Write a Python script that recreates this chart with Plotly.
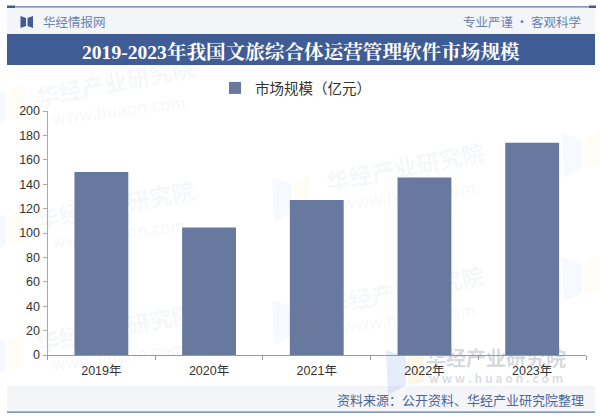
import plotly.graph_objects as go

years = ["2019年", "2020年", "2021年", "2022年", "2023年"]
market_size = [150, 104.5, 127, 145.5, 174]
y_ticks = [0, 20, 40, 60, 80, 100, 120, 140, 160, 180, 200]

W, H = 600, 419
CJK = "Noto Sans CJK SC"
LATIN = "Liberation Sans, Noto Sans CJK SC"
SERIF = "Liberation Serif, Noto Serif CJK SC, serif"
BAND = "#3f5c94"
BAR = "#67799f"
PALE = "#f3f5f9"
WATERMARK = "rgba(120,130,150,0.08)"


def px(x):
    return x / W


def py(y):
    return 1 - y / H


def rect(x0, y0, x1, y1, color):
    return dict(type="rect", xref="paper", yref="paper", x0=px(x0), x1=px(x1),
                y0=py(y0), y1=py(y1), fillcolor=color, line_width=0, layer="below")


def poly(points, color):
    path = "M " + " L ".join(f"{px(x)} {py(y)}" for x, y in points) + " Z"
    return dict(type="path", xref="paper", yref="paper", path=path, fillcolor=color,
                line_width=0, layer="below")


def label(x, y, text, size, color, anchor="left", family=CJK):
    return dict(xref="paper", yref="paper", x=px(x), y=py(y), text=text, showarrow=False,
                xanchor=anchor, yanchor="middle",
                font=dict(size=size, color=color, family=family))


def watermark(x, y, text, size, angle, color=WATERMARK):
    # invisible box, only its label shows; stays under the bars
    return dict(type="rect", xref="paper", yref="paper", x0=px(x - 90), x1=px(x + 90),
                y0=py(y + 20), y1=py(y - 20), line_width=0, fillcolor="rgba(0,0,0,0)",
                layer="below",
                label=dict(text=text, textangle=angle, textposition="middle center",
                           font=dict(size=size, color=color, family=CJK)))


def logo(x, y, alpha=0.05):
    blue = f"rgba(70,130,220,{alpha})"
    yellow = f"rgba(250,200,80,{alpha})"
    return [
        poly([(x, y), (x + 20, y + 7), (x + 20, y + 35), (x + 2, y + 45)], blue),
        poly([(x + 38, y - 3), (x + 22, y + 7), (x + 22, y + 35), (x + 38, y + 32)], yellow),
    ]


shapes = [
    rect(7, 7, 595, 34, PALE),
    rect(7, 34, 595, 65, BAND),
    rect(7, 386, 595, 412, PALE),
    rect(7, 6.2, 595, 7.4, "#5d78a8"),
    rect(7, 411.6, 595, 412.8, "#5d78a8"),
    rect(7, 5.5, 15, 8, BAND),
    rect(589, 5.5, 596, 8, BAND),
    # logo mark
    poly([(20.5, 16), (26, 18), (26, 26), (20.5, 28)], BAND),
    poly([(33, 16), (27.5, 18), (27.5, 26), (33, 28)], BAND),
]

for lx, ly in [(-14, 85), (-14, 210), (-14, 335), (272, 177), (272, 300), (562, 133), (562, 257)]:
    shapes += logo(lx, ly)
shapes += logo(386, 350, alpha=0.14)

for wx, wy in [(116, 85), (116, 208), (116, 331), (406, 170), (406, 293)]:
    shapes.append(watermark(wx, wy, "<b>华经产业研究院</b>", 23, -11))
    shapes.append(watermark(wx + 3, wy + 27, "www.huaon.com", 17, -7))
shapes.append(watermark(496, 360, "<b>华经产业研究院</b>", 20, 0, "rgba(110,120,140,0.3)"))
shapes.append(watermark(496, 379, "<b>w w w . h u a o n . c o m</b>", 12, 0, "rgba(110,120,140,0.25)"))

annotations = [
    label(41, 22, "华经情报网", 12.5, "#6a82ac"),
    label(583, 21, "专业严谨 • 客观科学", 12.5, "#6a82ac", anchor="right"),
    label(301, 52, "<b>2019-2023年我国文旅综合体运营管理软件市场规模</b>", 19.6, "#ffffff",
          anchor="center", family=SERIF),
    label(586, 399, "资料来源：公开资料、华经产业研究院整理", 13, "#4d6598", anchor="right"),
]

fig = go.Figure(
    go.Bar(x=years, y=market_size, name="市场规模（亿元）", width=0.5,
           marker=dict(color=BAR, line_width=0))
)

fig.update_layout(
    width=W,
    height=H,
    margin=dict(l=0, r=0, t=0, b=0, autoexpand=False),
    paper_bgcolor="white",
    plot_bgcolor="rgba(0,0,0,0)",
    font=dict(family=LATIN, size=12, color="#333333"),
    shapes=shapes,
    annotations=annotations,
    showlegend=True,
    legend=dict(orientation="h", x=px(215), xanchor="left", y=py(88), yanchor="middle",
                font=dict(size=14.5, color="#333333", family=CJK), itemwidth=30,
                bgcolor="rgba(0,0,0,0)"),
    xaxis=dict(domain=[px(47.5), px(586)], type="category", tickson="boundaries",
               showline=True, linecolor="#999999", linewidth=1, ticks="outside", ticklen=4,
               tickcolor="#999999", showgrid=False, ticklabelstandoff=4,
               tickfont=dict(size=12.5, color="#333333", family=LATIN)),
    yaxis=dict(domain=[py(355), py(111)], range=[0, 200], tickvals=y_ticks, showgrid=False,
               zeroline=False, showline=True, linecolor="#aaaaaa", linewidth=1,
               ticks="outside", ticklen=4, tickcolor="#aaaaaa",
               tickfont=dict(size=12.5, color="#333333", family=LATIN)),
)

# the page's default body margin would push the figure off its 600x419 frame
fig.write_html("out.html", config=dict(displayModeBar=False),
               post_script="document.body.style.margin = '0';")
